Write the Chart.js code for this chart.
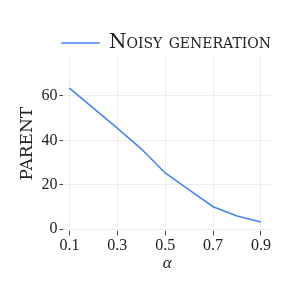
<!DOCTYPE html>
<html>
<head>
<meta charset="utf-8">
<script src="https://cdn.jsdelivr.net/npm/chart.js@4/dist/chart.umd.min.js"></script>
<style>
  html, body { margin: 0; padding: 0; background: #fff; }
  #wrap { width: 289px; height: 289px; }
</style>
</head>
<body>
<div id="wrap"><canvas id="myChart"></canvas></div>
<script>
// valeurs
const alphas = [0.1, 0.2, 0.3, 0.4, 0.5, 0.6, 0.7, 0.8, 0.9];
const parent = [63.5, 54.5, 45.5, 36.2, 25.3, 17.7, 10.1, 5.9, 3.2];
const xTicks = [0.1, 0.3, 0.5, 0.7, 0.9];
const yTicks = [0, 20, 40, 60];

const serif = "'Liberation Serif', 'DejaVu Serif', serif";
const blue = "#4285f4";

const data = {
  datasets: [
    {
      label: "Noisy generation",
      data: alphas.map((a, i) => ({ x: a, y: parent[i] })),
      borderColor: blue,
      backgroundColor: blue,
      borderWidth: 1.6,
      pointRadius: 0,
      tension: 0,
    },
  ],
};

const config = {
  type: "line",
  data: data,
  options: {
    responsive: true,
    maintainAspectRatio: false,
    animation: false,
    layout: { padding: { left: 17, right: 18, top: 33, bottom: 15 } },
    plugins: {
      tooltip: { enabled: false },
      legend: {
        position: "top",
        align: "end",
        maxHeight: 23,
        labels: {
          boxWidth: 37,
          boxHeight: 0.01,
          padding: 0,
          color: "#222",
          font: { family: "'DejaVu Serif', serif", size: 20, weight: "small-caps" },
        },
      },
    },
    scales: {
      x: {
        type: "linear",
        min: 0.075,
        max: 0.942,
        afterBuildTicks: (s) => { s.ticks = xTicks.map((v) => ({ value: v })); },
        border: { display: false },
        grid: { color: "#ececec", tickColor: "#444", tickLength: 4 },
        ticks: {
          color: "#222",
          padding: 1,
          maxRotation: 0,
          font: { family: serif, size: 16 },
          callback: (v) => v.toFixed(1),
        },
        title: {
          display: true,
          text: "α",
          color: "#222",
          padding: { top: -3, bottom: 0 },
          font: { family: serif, size: 17, style: "italic" },
        },
      },
      y: {
        min: -1,
        max: 78,
        afterBuildTicks: (s) => { s.ticks = yTicks.map((v) => ({ value: v })); },
        border: { display: false },
        grid: { color: "#ececec", tickColor: "#444", tickLength: 4 },
        ticks: {
          color: "#222",
          padding: 2,
          font: { family: serif, size: 16 },
        },
        title: {
          display: true,
          text: "PARENT",
          color: "#222",
          padding: { top: 0, bottom: 2 },
          font: { family: "'DejaVu Serif', serif", size: 17 },
        },
      },
    },
  },
};

const myChart = new Chart(document.getElementById("myChart"), config);
</script>
</body>
</html>
